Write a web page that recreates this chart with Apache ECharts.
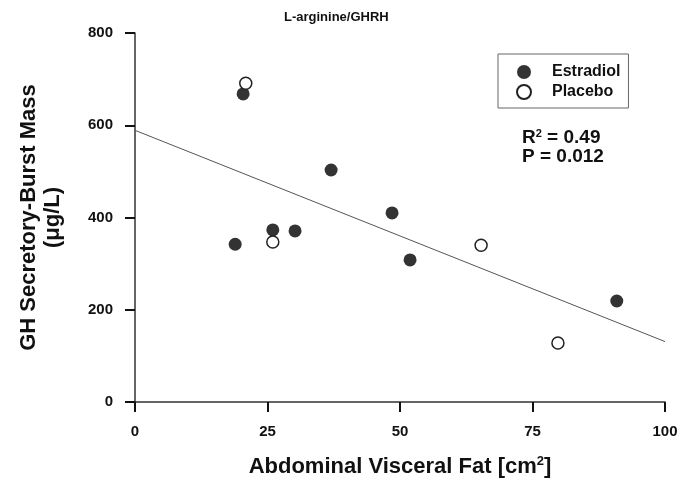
<!DOCTYPE html>
<html>
<head>
<meta charset="utf-8">
<script src="https://cdn.jsdelivr.net/npm/echarts@6/dist/echarts.min.js"></script>
<style>
    html, body { margin: 0; padding: 0; background: #fff; }
    #chart { width: 681px; height: 492px; }
</style>
</head>
<body>
<div id="chart"></div>
<script>
// 数据
var estradiolX = [20.4, 18.9, 26.0, 30.2, 37.0, 48.5, 51.9, 90.9];
var estradiolY = [668, 342, 373, 371, 503, 410, 308, 219];
var placeboX = [20.9, 26.0, 65.3, 79.8];
var placeboY = [691, 347, 340, 128];
var fitX = [0, 100];
var fitY = [589, 131];
var xTicks = [0, 25, 50, 75, 100];
var yTicks = [0, 200, 400, 600, 800];

function pairs(xs, ys) {
    var out = [];
    for (var i = 0; i < xs.length; i++) {
        out.push([xs[i], ys[i]]);
    }
    return out;
}

var font = 'Liberation Sans, Arial, sans-serif';

var myChart = echarts.init(document.getElementById('chart'));

var option = {
    backgroundColor: '#fff',
    animation: false,
    title: {
        text: 'L-arginine/GHRH',
        left: 279,
        top: 6,
        textStyle: {
            fontFamily: font,
            fontWeight: 'bold',
            fontSize: 13,
            color: '#111'
        }
    },
    legend: {
        orient: 'vertical',
        left: 498,
        top: 54,
        width: 129,
        padding: [10, 8, 8, 18],
        itemGap: 4,
        itemWidth: 14,
        itemHeight: 14,
        borderColor: '#666',
        borderWidth: 1,
        data: [
            { name: 'Estradiol', icon: 'circle' },
            { name: 'Placebo', icon: 'circle' }
        ],
        textStyle: {
            fontFamily: font,
            fontWeight: 'bold',
            fontSize: 16,
            color: '#111',
            padding: [0, 0, 0, 16]
        }
    },
    grid: {
        left: 135,
        right: 16,
        top: 33,
        bottom: 90,
        containLabel: false,
        outerBoundsMode: 'none'
    },
    xAxis: {
        type: 'value',
        min: xTicks[0],
        max: xTicks[xTicks.length - 1],
        interval: 25,
        name: 'Abdominal Visceral Fat [cm{s|2}]',
        nameLocation: 'middle',
        nameGap: 53,
        nameTextStyle: {
            fontFamily: font,
            fontWeight: 'bold',
            fontSize: 22,
            color: '#111',
            rich: {
                s: {
                    fontFamily: font,
                    fontWeight: 'bold',
                    fontSize: 13,
                    verticalAlign: 'top',
                    padding: [0, 0, 10, 0]
                }
            }
        },
        axisLine: { lineStyle: { color: '#333', width: 1.5 } },
        axisTick: { inside: false, length: 10, lineStyle: { color: '#111', width: 2 } },
        axisLabel: {
            margin: 22,
            fontFamily: font,
            fontWeight: 'bold',
            fontSize: 15,
            color: '#111'
        },
        splitLine: { show: false }
    },
    yAxis: {
        type: 'value',
        min: yTicks[0],
        max: yTicks[yTicks.length - 1],
        interval: 200,
        name: 'GH Secretory-Burst Mass\n(\u03bcg/L)',
        nameLocation: 'middle',
        nameGap: 70,
        nameTextStyle: {
            fontFamily: font,
            fontWeight: 'bold',
            fontSize: 22,
            lineHeight: 24,
            color: '#111'
        },
        axisLine: { show: true, lineStyle: { color: '#333', width: 1.5 } },
        axisTick: { show: true, inside: false, length: 10, lineStyle: { color: '#111', width: 2 } },
        axisLabel: {
            margin: 22,
            fontFamily: font,
            fontWeight: 'bold',
            fontSize: 15,
            color: '#111'
        },
        splitLine: { show: false }
    },
    graphic: [{
        type: 'text',
        left: 522,
        top: 128,
        style: {
            text: '{a|R}{s|2}{a| = 0.49}\n{a|P = 0.012}',
            rich: {
                a: {
                    fontFamily: font,
                    fontWeight: 'bold',
                    fontSize: 19,
                    lineHeight: 19,
                    fill: '#111'
                },
                s: {
                    fontFamily: font,
                    fontWeight: 'bold',
                    fontSize: 11,
                    lineHeight: 19,
                    verticalAlign: 'top',
                    fill: '#111'
                }
            }
        }
    }],
    series: [{
        name: 'fit',
        type: 'line',
        data: pairs(fitX, fitY),
        symbol: 'none',
        silent: true,
        lineStyle: { color: '#555', width: 1 },
        z: 1
    }, {
        name: 'Estradiol',
        type: 'scatter',
        data: pairs(estradiolX, estradiolY),
        symbol: 'circle',
        symbolSize: 13,
        itemStyle: { color: '#000', borderColor: '#000', borderWidth: 0 },
        z: 3
    }, {
        name: 'Placebo',
        type: 'scatter',
        data: pairs(placeboX, placeboY),
        symbol: 'circle',
        symbolSize: 12,
        itemStyle: { color: '#fff', borderColor: '#222', borderWidth: 1.5, opacity: 1 },
        z: 4
    }]
};

myChart.setOption(option);
</script>
</body>
</html>
